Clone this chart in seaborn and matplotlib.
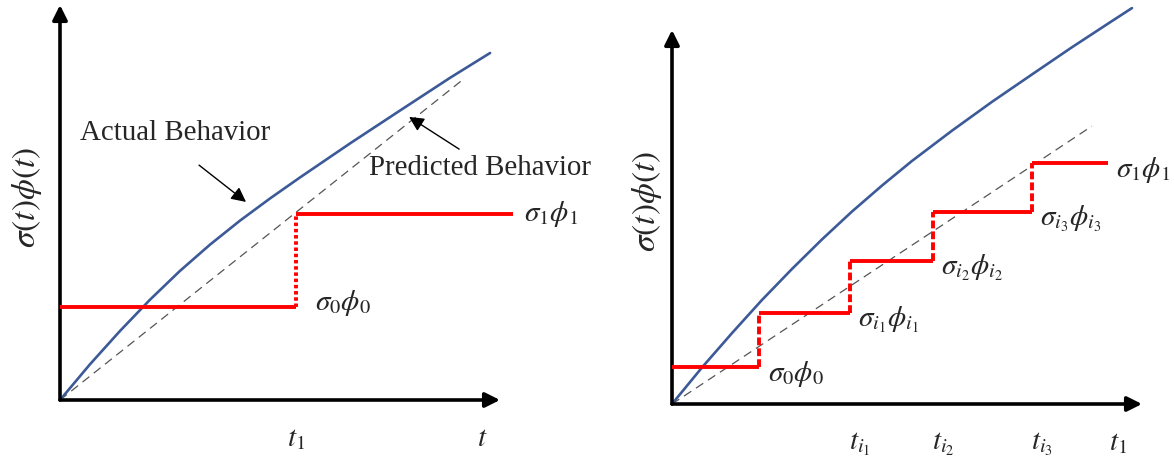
import matplotlib
matplotlib.use('Agg')
import matplotlib.pyplot as plt
import seaborn as sns
import pandas as pd
from matplotlib.transforms import ScaledTranslation

sns.set_theme(style='white')
plt.rcParams['font.family'] = ['Liberation Serif', 'DejaVu Serif']
plt.rcParams['mathtext.fontset'] = 'stix'

# ---------------- data: left panel ----------------
left_actual_t = [0, 0.127, 0.254, 0.381, 0.508, 0.636, 0.763, 0.890, 1.017, 1.229, 1.441, 1.653, 1.822]
left_actual_y = [0, 0.192, 0.371, 0.539, 0.694, 0.836, 0.965, 1.084, 1.197, 1.380, 1.557, 1.733, 1.866]
left_pred_t = [0, 1.71]
left_pred_y = [0, 1.726]
left_step_edges = [0, 1.0, 1.919]
left_step_levels = [0.5, 1.0]
left_step_labels = [r'$\sigma_0\phi_0$', r'$\sigma_1\phi_1$']
left_tick_pos = [1.0, 1.79]
left_tick_labels = [r'$t_1$', r'$t$']

# ---------------- data: right panel ----------------
right_actual_t = [0, 0.069, 0.138, 0.206, 0.275, 0.344, 0.413, 0.482, 0.550, 0.642, 0.734, 0.826, 0.917, 1.009, 1.055]
right_actual_y = [0, 0.152, 0.295, 0.431, 0.560, 0.683, 0.799, 0.907, 1.008, 1.134, 1.254, 1.368, 1.480, 1.589, 1.643]
right_pred_t = [0, 0.963]
right_pred_y = [0, 1.153]
right_step_edges = [0, 0.200, 0.408, 0.599, 0.826, 1.0]
right_step_levels = [0.152, 0.379, 0.595, 0.797, 1.0]
right_step_labels = [r'$\sigma_0\phi_0$', r'$\sigma_{i_1}\phi_{i_1}$', r'$\sigma_{i_2}\phi_{i_2}$',
                     r'$\sigma_{i_3}\phi_{i_3}$', r'$\sigma_1\phi_1$']
right_tick_pos = [0.408, 0.599, 0.826, 1.0]
right_tick_labels = [r'$t_{i_1}$', r'$t_{i_2}$', r'$t_{i_3}$', r'$t_1$']

BLUE = '#3d5a98'
RED = '#ff0000'
GREY = '#555555'
ylab = r'$\sigma(t)\phi(t)$'
MATH_FS = 21

fig = plt.figure(figsize=(11.74, 4.59), dpi=100)
axL = fig.add_axes([60 / 1174, 59 / 459, 440 / 1174, 395 / 459])
axR = fig.add_axes([672 / 1174, 55 / 459, 470 / 1174, 394 / 459])
axL.set_xlim(0, 1.864); axL.set_ylim(0, 2.124)
axR.set_xlim(0, 1.078); axR.set_ylim(0, 1.635)


def axes_arrows(ax, ytop):
    x1 = ax.get_xlim()[1]
    for xy in [(x1, 0), (0, ytop)]:
        ax.annotate('', xy=xy, xytext=(0, 0), xycoords='data', annotation_clip=False,
                    arrowprops=dict(arrowstyle='-|>', lw=2.6, color='black',
                                    mutation_scale=22, shrinkA=0, shrinkB=0))


def style(ax, ticks, labels, label_dx_px, ylab_x):
    for s in ax.spines.values():
        s.set_visible(False)
    ax.set_yticks([])
    ax.set_xticks(ticks)
    ax.set_xticklabels(labels, fontsize=21)
    ax.tick_params(axis='x', length=0, pad=19)
    off = ScaledTranslation(label_dx_px / 100, 0, fig.dpi_scale_trans)
    for lab in ax.get_xticklabels():
        lab.set_transform(lab.get_transform() + off)
    ax.set_xlabel('')
    ax.set_ylabel(ylab, fontsize=24, va='center')
    ax.yaxis.set_label_coords(ylab_x, 0.513)


def steps(ax, edges, levels, vstyle):
    for i, lev in enumerate(levels):
        ax.hlines(lev, edges[i], edges[i + 1], color=RED, lw=2.8, clip_on=False, zorder=4)
        if i + 1 < len(levels):
            ax.vlines(edges[i + 1], lev, levels[i + 1], color=RED, lw=2.8,
                      linestyles=[vstyle], clip_on=False, zorder=4)


# ---------------- left panel ----------------
sns.lineplot(x=left_actual_t, y=left_actual_y, ax=axL, color=BLUE, lw=1.9,
             sort=False, estimator=None, clip_on=False, zorder=3)
sns.lineplot(x=left_pred_t, y=left_pred_y, ax=axL, color=GREY, lw=0.9,
             linestyle=(0, (7, 4.5)), sort=False, estimator=None, zorder=2)
steps(axL, left_step_edges, left_step_levels, (0, (0.9, 0.7)))
axL.annotate(left_step_labels[0], xy=(left_step_edges[1], left_step_levels[0]),
             xytext=(14, 3), textcoords='offset points', fontsize=MATH_FS, va='center', ha='left')
axL.annotate(left_step_labels[1], xy=(left_step_edges[2], left_step_levels[1]),
             xytext=(8, 0), textcoords='offset points', fontsize=MATH_FS, va='center', ha='left',
             annotation_clip=False)
axL.text(0.487, 1.435, 'Actual Behavior', fontsize=20.8, ha='center', va='center')
axL.annotate('', xy=(0.788, 1.065), xytext=(0.589, 1.263),
             arrowprops=dict(arrowstyle='-|>', lw=1.0, color='black', mutation_scale=22,
                             shrinkA=0, shrinkB=0))
axL.text(1.78, 1.247, 'Predicted Behavior', fontsize=20.8, ha='center', va='center', clip_on=False)
axL.annotate('', xy=(1.479, 1.522), xytext=(1.691, 1.349),
             arrowprops=dict(arrowstyle='-|>', lw=1.0, color='black', mutation_scale=22,
                             shrinkA=0, shrinkB=0))
axes_arrows(axL, 2.124)
style(axL, left_tick_pos, left_tick_labels, 0, -33 / 440)

# ---------------- right panel ----------------
sns.lineplot(x=right_actual_t, y=right_actual_y, ax=axR, color=BLUE, lw=1.9,
             sort=False, estimator=None, clip_on=False, zorder=3)
sns.lineplot(x=right_pred_t, y=right_pred_y, ax=axR, color=GREY, lw=0.9,
             linestyle=(0, (7, 4.5)), sort=False, estimator=None, zorder=2)
steps(axR, right_step_edges, right_step_levels, (0, (2.0, 0.8)))
for i, (lab, lev) in enumerate(zip(right_step_labels, right_step_levels)):
    axR.annotate(lab, xy=(right_step_edges[i + 1], lev), xytext=(6, -5),
                 textcoords='offset points', fontsize=MATH_FS, va='center', ha='left',
                 annotation_clip=False)
axes_arrows(axR, 1.552)
style(axR, right_tick_pos, right_tick_labels, 10, -25 / 470)

fig.savefig('out.png', dpi=100)
